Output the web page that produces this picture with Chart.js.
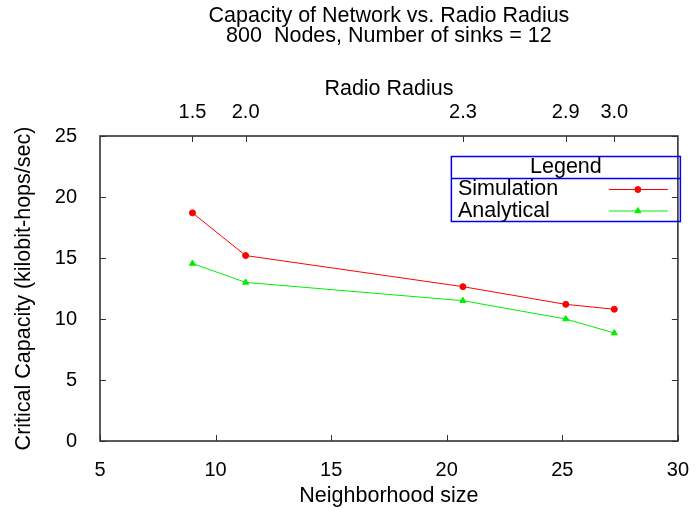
<!DOCTYPE html>
<html>
<head>
<meta charset="utf-8">
<script src="https://cdn.jsdelivr.net/npm/chart.js@4.4.1/dist/chart.umd.min.js"></script>
<style>
  html, body { margin: 0; padding: 0; background: #ffffff; }
  #wrap { width: 698px; height: 510px; }
</style>
</head>
<body>
<div id="wrap"><canvas id="c" width="698" height="510"></canvas></div>
<script>
// Measured network capacity against neighbourhood size (bottom axis) / radio radius (top axis)
const neighborhoodSize = [9.0, 11.3, 20.7, 25.15, 27.25];
const radioRadius = ['1.5', '2.0', '2.3', '2.9', '3.0'];
const simulation = [18.7, 15.2, 12.65, 11.2, 10.8];
const analytical = [14.55, 13.0, 11.5, 10.0, 8.85];

const titleLines = ['Capacity of Network vs. Radio Radius', '800  Nodes, Number of sinks = 12'];
const legendTitle = 'Legend';

const FAMILY = '"Liberation Sans", Arial, Helvetica, sans-serif';
const TEXT = 21.5;   // titles, axis names, key entries
const TICK = 20;     // tick labels
const font = (size, lh) => ({ family: FAMILY, size: size, weight: 'normal', lineHeight: lh || 1.2 });
const AXIS = '#333333';

const points = ys => neighborhoodSize.map((x, i) => ({ x: x, y: ys[i] }));

// Inward tick marks, plot frame and boxed key
const framePlugin = {
  id: 'frame',
  beforeDatasetsDraw(chart) {
    const { ctx, chartArea: a, scales } = chart;
    const L = 6;
    ctx.save();
    ctx.strokeStyle = AXIS;
    ctx.lineWidth = 1;
    ctx.beginPath();
    scales.x.ticks.forEach(t => {
      const px = Math.round(scales.x.getPixelForValue(t.value)) + 0.5;
      ctx.moveTo(px, a.bottom); ctx.lineTo(px, a.bottom - L);
    });
    scales.x2.ticks.forEach(t => {
      const px = Math.round(scales.x2.getPixelForValue(t.value)) + 0.5;
      ctx.moveTo(px, a.top); ctx.lineTo(px, a.top + L);
    });
    scales.y.ticks.forEach(t => {
      const py = Math.round(scales.y.getPixelForValue(t.value)) + 0.5;
      ctx.moveTo(a.left, py); ctx.lineTo(a.left + L, py);
      ctx.moveTo(a.right, py); ctx.lineTo(a.right - L, py);
    });
    ctx.stroke();
    ctx.lineWidth = 1.6;
    ctx.strokeRect(a.left, a.top, a.right - a.left, a.bottom - a.top);
    ctx.restore();
  },
  afterDatasetsDraw(chart) {
    const { ctx, chartArea: a } = chart;
    const left = a.right - 226.5, right = a.right + 2.5;
    const top = a.top + 20.5, sep = a.top + 42.5, bottom = a.top + 85.5;
    ctx.save();
    ctx.strokeStyle = '#0000ff';
    ctx.lineWidth = 1.5;
    ctx.strokeRect(left, top, right - left, bottom - top);
    ctx.beginPath();
    ctx.moveTo(left, sep); ctx.lineTo(right, sep);
    ctx.stroke();

    ctx.fillStyle = '#000000';
    ctx.font = TEXT + 'px ' + FAMILY;
    ctx.textBaseline = 'middle';
    ctx.textAlign = 'center';
    ctx.fillText(legendTitle, (left + right) / 2, a.top + 31);

    const rows = [a.top + 53.5, a.top + 75];
    chart.data.datasets.forEach((ds, i) => {
      const y = rows[i];
      ctx.fillStyle = '#000000';
      ctx.textAlign = 'left';
      ctx.fillText(ds.label, left + 6.5, y);
      ctx.strokeStyle = ds.borderColor;
      ctx.lineWidth = ds.borderWidth;
      ctx.beginPath();
      ctx.moveTo(a.right - 69, y); ctx.lineTo(a.right - 10, y);
      ctx.stroke();
      ctx.fillStyle = ds.backgroundColor;
      Chart.helpers.drawPoint(ctx, {
        pointStyle: ds.pointStyle, radius: ds.pointRadius, rotation: 0, borderWidth: 1
      }, a.right - 40, y);
    });
    ctx.restore();
  }
};

new Chart(document.getElementById('c'), {
  type: 'line',
  data: {
    datasets: [
      {
        label: 'Simulation',
        data: points(simulation),
        borderColor: '#ff0000',
        backgroundColor: '#ff0000',
        borderWidth: 1,
        pointStyle: 'circle',
        pointRadius: 3,
        pointBorderWidth: 1,
        tension: 0,
        xAxisID: 'x',
        yAxisID: 'y'
      },
      {
        label: 'Analytical',
        data: points(analytical),
        borderColor: '#00ee00',
        backgroundColor: '#00ee00',
        borderWidth: 1,
        pointStyle: 'triangle',
        pointRadius: 3.5,
        pointBorderWidth: 1,
        tension: 0,
        xAxisID: 'x',
        yAxisID: 'y'
      }
    ]
  },
  options: {
    responsive: false,
    animation: false,
    devicePixelRatio: 1,
    layout: { padding: { left: 0, right: 19, top: 0, bottom: 0 } },
    plugins: {
      legend: { display: false },
      tooltip: { enabled: false },
      title: {
        display: true,
        fullSize: false,
        text: titleLines,
        color: '#000000',
        font: font(TEXT, 20 / TEXT),
        padding: { top: 6, bottom: 0 }
      }
    },
    scales: {
      x: {
        type: 'linear',
        position: 'bottom',
        min: 5,
        max: 30,
        afterFit: s => { s.height = 69; },
        grid: { display: false },
        border: { display: false },
        ticks: { stepSize: 5, color: '#000000', font: font(TICK), padding: 9, autoSkip: false, maxRotation: 0 },
        title: { display: true, text: 'Neighborhood size', color: '#000000', font: font(TEXT), padding: { top: 0, bottom: 1 } }
      },
      x2: {
        type: 'linear',
        position: 'top',
        min: 5,
        max: 30,
        afterFit: s => { s.height = 90; },
        afterBuildTicks: s => { s.ticks = neighborhoodSize.map(v => ({ value: v })); },
        grid: { display: false },
        border: { display: false },
        ticks: {
          color: '#000000', font: font(TICK), padding: 4, autoSkip: false, maxRotation: 0,
          callback: (v, i) => radioRadius[i]
        },
        title: { display: true, text: 'Radio Radius', color: '#000000', font: font(TEXT), padding: { top: 30, bottom: 0 } }
      },
      y: {
        type: 'linear',
        position: 'left',
        min: 0,
        max: 25,
        afterFit: s => { s.width = 100; },
        grid: { display: false },
        border: { display: false },
        ticks: { stepSize: 5, color: '#000000', font: font(TICK), padding: 15 },
        title: { display: true, text: 'Critical Capacity (kilobit-hops/sec)', color: '#000000', font: font(TEXT), padding: { top: 11.5, bottom: 0 } }
      }
    }
  },
  plugins: [framePlugin]
});
</script>
</body>
</html>
